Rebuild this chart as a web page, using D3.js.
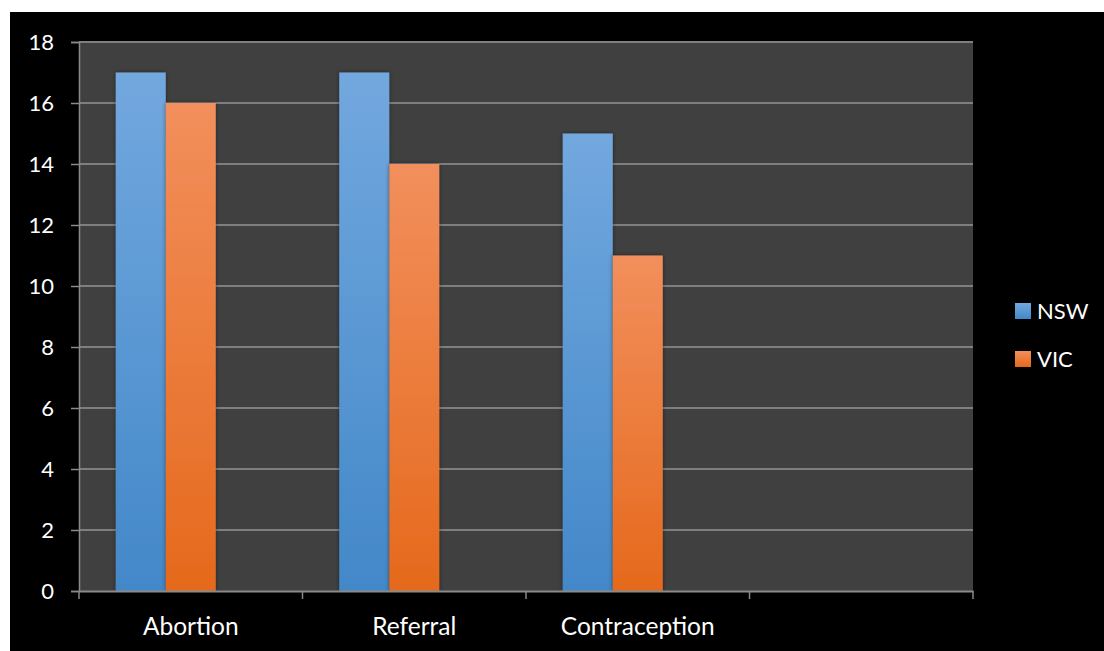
<!DOCTYPE html>
<html>
<head>
<meta charset="utf-8">
<script src="https://cdn.jsdelivr.net/npm/d3@7"></script>
<style>
  html, body { margin: 0; padding: 0; background: #ffffff; }
  svg { display: block; }
  text { font-family: Lato, "Open Sans", sans-serif; fill: #ffffff; }
</style>
</head>
<body>
<svg id="chart" width="1104" height="651"></svg>
<script>
// Categories along the x axis (the last slot is left empty)
const categories = ["Abortion", "Referral", "Contraception", ""];
const seriesNames = ["NSW", "VIC"];
const nswValues = [17, 17, 15];
const vicValues = [16, 14, 11];
const yTicks = [0, 2, 4, 6, 8, 10, 12, 14, 16, 18];

const seriesValues = { NSW: nswValues, VIC: vicValues };
const data = categories.slice(0, 3).map((c, i) => ({
  category: c,
  values: seriesNames.map(s => ({ series: s, value: seriesValues[s][i] }))
}));

const svg = d3.select("#chart");
const W = 1104, H = 651;

// Black chart area
svg.append("rect").attr("x", 10).attr("y", 12).attr("width", W - 10).attr("height", H - 12).attr("fill", "#000");

const plot = { left: 79, right: 973, top: 42, bottom: 591 };

const defs = svg.append("defs");
const grads = {
  NSW: ["#72a8de", "#4388c9"],
  VIC: ["#f28f5c", "#e5691c"]
};
Object.entries(grads).forEach(([k, [top, bottom]]) => {
  const g = defs.append("linearGradient").attr("id", "grad-" + k)
    .attr("x1", 0).attr("y1", 0).attr("x2", 0).attr("y2", 1);
  g.append("stop").attr("offset", "0%").attr("stop-color", top);
  g.append("stop").attr("offset", "100%").attr("stop-color", bottom);
});
const shadow = defs.append("filter").attr("id", "shadow")
  .attr("x", "-20%").attr("y", "-20%").attr("width", "140%").attr("height", "140%");
shadow.append("feDropShadow").attr("dx", 0).attr("dy", 0).attr("stdDeviation", 2)
  .attr("flood-color", "#000").attr("flood-opacity", 0.45);

const x0 = d3.scaleBand().domain(categories).range([plot.left, plot.right]).padding(0);
// Three slots per cluster; the bars fill the first two
const x1 = d3.scaleBand().domain([0, 1, 2]).range([0, x0.bandwidth()])
  .paddingInner(0).paddingOuter(0.735);
const y = d3.scaleLinear().domain([0, 18]).range([plot.bottom, plot.top]);

// Plot background
svg.append("rect")
  .attr("x", plot.left).attr("y", plot.top)
  .attr("width", plot.right - plot.left).attr("height", plot.bottom - plot.top)
  .attr("fill", "#404040");

// Horizontal gridlines
svg.append("g").selectAll("line").data(yTicks.filter(t => t > 0)).join("line")
  .attr("x1", plot.left).attr("x2", plot.right)
  .attr("y1", d => y(d)).attr("y2", d => y(d))
  .attr("stroke", "#7f7f7f").attr("stroke-width", 2);

// Bars
const groups = svg.append("g").selectAll("g").data(data).join("g")
  .attr("transform", d => `translate(${x0(d.category)},0)`);
groups.selectAll("rect").data(d => d.values).join("rect")
  .attr("x", (d, i) => x1(i))
  .attr("width", x1.bandwidth())
  .attr("y", d => y(d.value))
  .attr("height", d => y(0) - y(d.value))
  .attr("fill", d => `url(#grad-${d.series})`)
  .attr("filter", "url(#shadow)");

// Y axis
const yAxis = svg.append("g").attr("transform", `translate(${plot.left},0)`)
  .call(d3.axisLeft(y).tickValues(yTicks).tickSize(8).tickPadding(17).tickFormat(d3.format("d")));
yAxis.select(".domain").attr("stroke", "#8a8a8a").attr("stroke-width", 1.5);
yAxis.selectAll(".tick line").attr("stroke", "#8a8a8a").attr("stroke-width", 1.5);
yAxis.selectAll(".tick text").attr("fill", "#fff").style("font-size", "22px");

// X axis
const xAxis = svg.append("g").attr("transform", `translate(0,${plot.bottom})`)
  .call(d3.axisBottom(x0).tickSize(0).tickPadding(27).tickSizeOuter(0));
xAxis.select(".domain").attr("stroke", "#8a8a8a").attr("stroke-width", 2);
xAxis.selectAll(".tick text").attr("fill", "#fff").style("font-size", "24.5px");
// Category boundary ticks
const bounds = categories.map(c => x0(c)).concat([plot.right]);
svg.append("g").selectAll("line").data(bounds).join("line")
  .attr("x1", d => d).attr("x2", d => d)
  .attr("y1", plot.bottom).attr("y2", plot.bottom + 8)
  .attr("stroke", "#8a8a8a").attr("stroke-width", 1.5);

// Legend
const legend = svg.append("g").selectAll("g").data(seriesNames).join("g")
  .attr("transform", (d, i) => `translate(1015,${303 + i * 48})`);
legend.append("rect").attr("width", 16).attr("height", 16)
  .attr("fill", d => `url(#grad-${d})`);
legend.append("text").attr("x", 22).attr("y", 8).attr("dy", "0.36em")
  .style("font-size", "22px").text(d => d);
</script>
</body>
</html>
